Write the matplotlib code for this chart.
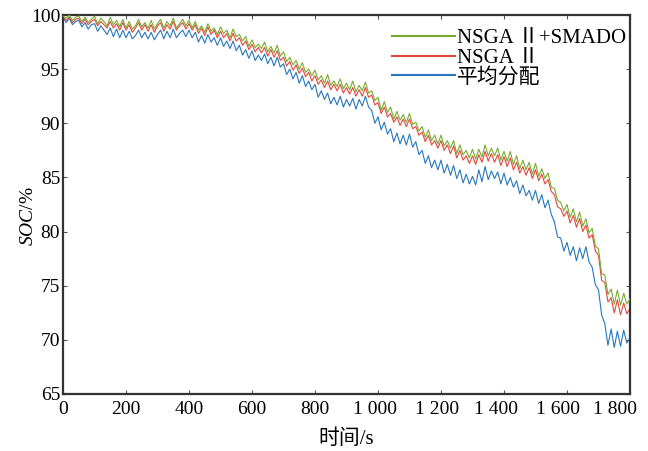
import numpy as np
import matplotlib
matplotlib.use('Agg')
import matplotlib.pyplot as plt
import matplotlib.transforms as mtransforms

# 时间 (s)，每 10 s 一个点
t = np.arange(0, 1801, 10)

# NSGA II + SMADO
soc_smado = [
    99.9, 99.7, 100.0, 99.5, 99.8, 99.9, 99.4, 99.8, 99.3, 99.6,
    99.9, 99.2, 99.7, 99.4, 99.0, 99.8, 99.1, 99.5, 98.9, 99.6,
    98.8, 99.4, 98.7, 99.0, 99.6, 98.9, 99.3, 98.8, 99.5, 98.7,
    99.2, 99.6, 98.8, 99.4, 99.0, 99.7, 98.8, 99.2, 99.6, 99.0,
    99.5, 98.8, 99.4, 98.6, 99.0, 98.4, 99.2, 98.5, 98.8, 98.2,
    98.9, 98.3, 98.6, 97.9, 98.7, 98.0, 98.2, 97.6, 98.0, 97.1,
    97.7, 97.0, 97.3, 96.9, 97.5, 96.6, 97.1, 96.5, 97.2, 96.2,
    96.6, 95.7, 96.1, 95.4, 95.8, 95.0, 95.6, 94.7, 95.0, 94.4,
    94.9, 94.0, 94.4, 93.7, 94.5, 93.5, 93.9, 93.4, 94.1, 93.2,
    93.7, 93.1, 93.9, 92.9, 93.5, 93.0, 93.8, 92.8, 93.0, 92.1,
    92.4, 91.2, 92.0, 91.0, 91.5, 90.4, 91.1, 90.3, 90.8, 90.1,
    90.9, 89.9, 90.1, 89.3, 89.7, 88.7, 89.4, 88.4, 88.9, 88.1,
    88.9, 87.9, 88.4, 87.7, 88.4, 87.2, 88.0, 87.1, 87.5, 86.8,
    87.6, 86.7, 87.6, 86.9, 88.0, 87.0, 87.7, 87.0, 87.7, 86.6,
    87.4, 86.5, 87.4, 86.2, 87.0, 85.8, 86.6, 85.7, 86.4, 85.3,
    86.3, 85.1, 85.8, 84.9, 85.4, 84.1, 84.0, 82.9, 82.7, 81.9,
    82.5, 81.3, 82.1, 80.9, 81.8, 80.5, 81.2, 79.9, 80.3, 78.7,
    78.4, 76.1, 76.0, 74.2, 74.7, 73.3, 74.6, 73.2, 74.3, 73.3,
    73.8,
]

# NSGA II
soc_nsga = [
    99.8, 99.5, 99.8, 99.3, 99.6, 99.7, 99.2, 99.6, 99.1, 99.4,
    99.6, 99.0, 99.4, 99.1, 98.8, 99.4, 98.8, 99.2, 98.6, 99.3,
    98.6, 99.1, 98.4, 98.8, 99.3, 98.6, 99.1, 98.5, 99.1, 98.4,
    99.0, 99.3, 98.5, 99.1, 98.7, 99.4, 98.6, 99.0, 99.3, 98.7,
    99.2, 98.6, 99.1, 98.3, 98.8, 98.1, 98.9, 98.2, 98.6, 97.9,
    98.5, 97.9, 98.3, 97.6, 98.3, 97.6, 97.9, 97.2, 97.6, 96.8,
    97.3, 96.6, 97.0, 96.5, 97.0, 96.2, 96.8, 96.1, 96.7, 95.8,
    96.1, 95.3, 95.7, 94.9, 95.4, 94.6, 95.1, 94.3, 94.7, 93.9,
    94.4, 93.6, 94.0, 93.3, 93.9, 93.1, 93.6, 93.0, 93.6, 92.8,
    93.3, 92.7, 93.3, 92.5, 93.1, 92.5, 93.3, 92.4, 92.6, 91.7,
    91.9, 90.9, 91.5, 90.6, 90.9, 90.1, 90.6, 89.8, 90.4, 89.7,
    90.4, 89.5, 89.7, 88.9, 89.2, 88.3, 88.9, 88.0, 88.4, 87.7,
    88.4, 87.5, 88.0, 87.2, 87.9, 86.8, 87.5, 86.6, 87.0, 86.3,
    87.0, 86.2, 87.1, 86.4, 87.4, 86.5, 87.2, 86.4, 87.1, 86.1,
    86.9, 86.0, 86.8, 85.7, 86.4, 85.4, 86.0, 85.2, 85.9, 84.9,
    85.7, 84.7, 85.3, 84.4, 84.8, 83.7, 83.4, 82.3, 82.1, 81.4,
    81.9, 80.8, 81.5, 80.4, 81.2, 80.0, 80.6, 79.4, 79.7, 78.2,
    77.8, 75.5, 75.3, 73.5, 73.9, 72.5, 73.7, 72.3, 73.4, 72.4,
    72.9,
]

# 平均分配
soc_avg = [
    99.8, 99.3, 99.7, 99.1, 99.4, 99.5, 98.9, 99.3, 98.7, 99.1,
    99.2, 98.5, 99.0, 98.6, 98.2, 98.8, 98.0, 98.7, 97.9, 98.6,
    97.9, 98.5, 97.8, 98.1, 98.6, 97.9, 98.4, 97.8, 98.4, 97.7,
    98.2, 98.6, 97.8, 98.5, 97.9, 98.7, 97.9, 98.3, 98.6, 98.0,
    98.6, 97.9, 98.4, 97.5, 98.1, 97.4, 98.2, 97.5, 97.9, 97.2,
    97.9, 97.1, 97.6, 96.9, 97.6, 96.7, 97.2, 96.3, 96.8, 96.0,
    96.7, 95.8, 96.3, 95.8, 96.4, 95.5, 96.1, 95.3, 96.1, 95.2,
    95.5, 94.5, 95.0, 94.1, 94.7, 93.7, 94.4, 93.4, 93.9, 93.1,
    93.6, 92.4, 93.0, 92.2, 92.8, 91.8, 92.4, 91.7, 92.5, 91.5,
    92.2, 91.6, 92.3, 91.3, 92.2, 91.6, 92.5, 91.5, 91.2, 90.0,
    90.6, 89.4, 90.1, 89.0, 89.5, 88.3, 89.1, 88.1, 88.9, 88.0,
    89.0, 87.8, 88.3, 87.1, 87.5, 86.3, 87.0, 85.9, 86.6, 85.7,
    86.6, 85.4, 86.2, 85.2, 86.1, 84.9, 85.7, 84.5, 85.3, 84.4,
    85.1, 84.3, 85.7, 84.6, 86.0, 84.8, 85.6, 84.9, 85.5, 84.4,
    85.4, 84.3, 85.0, 84.1, 84.7, 83.5, 84.3, 83.3, 83.8, 82.9,
    83.8, 82.6, 83.4, 82.2, 82.9, 81.6, 80.9, 79.5, 79.4, 78.2,
    79.0, 77.8, 78.6, 77.3, 78.5, 77.5, 78.6, 77.2, 76.7, 75.1,
    74.6, 72.3, 71.5, 69.5, 71.0, 69.3, 70.8, 69.4, 70.9, 69.7,
    70.2,
]

x_ticks = [0, 200, 400, 600, 800, 1000, 1200, 1400, 1600, 1800]
x_labels = ['0', '200', '400', '600', '800', '1 000', '1 200', '1 400', '1 600', '1 800']
y_ticks = [65, 70, 75, 80, 85, 90, 95, 100]

plt.rcParams['font.family'] = ['Liberation Serif', 'Noto Sans CJK SC']
plt.rcParams['mathtext.fontset'] = 'custom'
plt.rcParams['mathtext.it'] = 'Liberation Serif:italic'
plt.rcParams['mathtext.rm'] = 'Liberation Serif'

fig = plt.figure(figsize=(6.48, 4.51), dpi=100)
ax = fig.add_axes([63 / 648, 57 / 451, 567 / 648, 379 / 451])

ax.plot(t, soc_smado, color='#77ac30', lw=0.8, label='NSGA Ⅱ+SMADO', zorder=3)
ax.plot(t, soc_nsga, color='#e2483a', lw=0.8, label='NSGA Ⅱ', zorder=2)
ax.plot(t, soc_avg, color='#2677bb', lw=0.8, label='平均分配', zorder=1)

ax.set_xlim(0, 1800)
ax.set_ylim(65, 100)
ax.set_xticks(x_ticks)
ax.set_xticklabels(x_labels)
ax.set_yticks(y_ticks)
ax.tick_params(direction='in', length=3, width=0.8, top=True, right=True,
               labelsize=14, color='#555555')
ax.tick_params(axis='x', pad=5)
ax.tick_params(axis='y', pad=2)
for s in ax.spines.values():
    s.set_linewidth(1.6)
    s.set_color('#333333')

# 右侧几个刻度标签稍微往左挪，和原图一致
shifts = [0, 0, 0, 0, 0, -3, -4, -8, -9, -15]
for lab, dx in zip(ax.get_xticklabels(), shifts):
    if dx:
        lab.set_transform(lab.get_transform() +
                          mtransforms.ScaledTranslation(dx / 100, 0, fig.dpi_scale_trans))

ax.set_xlabel('时间/s', fontsize=15, labelpad=8)
ax.set_ylabel(r'$\mathit{SOC}$/%', fontsize=14)
ax.yaxis.set_label_coords(-0.045, 0.47)

leg = ax.legend(loc='upper right', bbox_to_anchor=(1.0, 0.975), frameon=False,
                fontsize=15, handlelength=3.0, handletextpad=0.1,
                labelspacing=0.0, borderaxespad=0.1, borderpad=0.1)
for line in leg.get_lines():
    line.set_linewidth(1.5)

fig.savefig('out.png', dpi=100)
